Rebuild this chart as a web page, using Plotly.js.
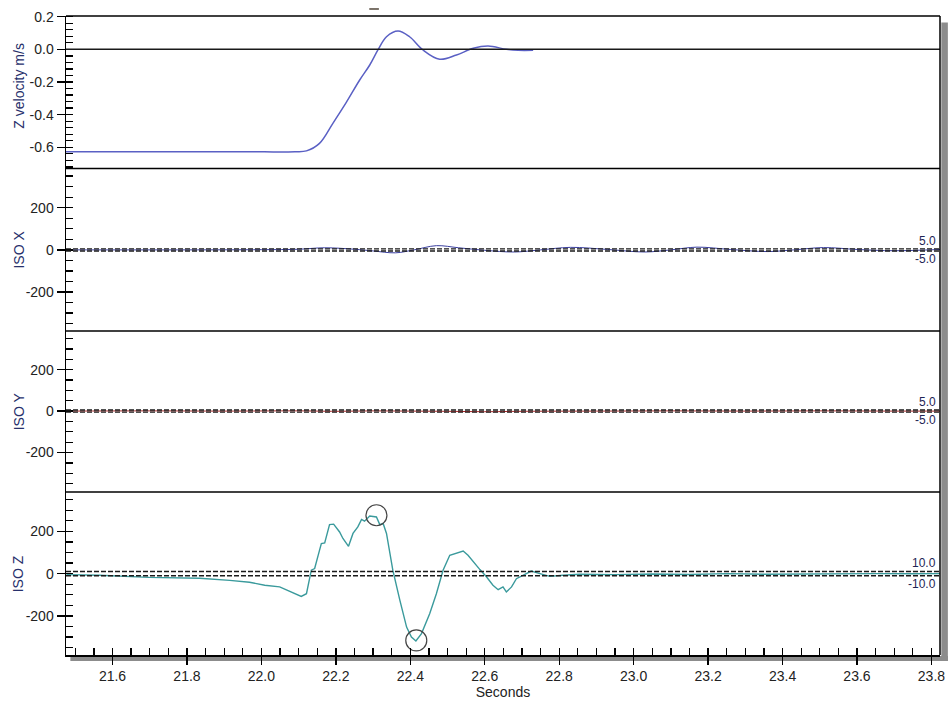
<!DOCTYPE html>
<html>
<head>
<meta charset="utf-8">
<script src="https://cdn.plot.ly/plotly-3.0.1.min.js"></script>
<style>html,body{margin:0;padding:0;background:#fff;}#chart{width:949px;height:701px;}</style>
</head>
<body>
<div id="chart"></div>
<script>
// ---- data ----
const zVelT = [21.475, 21.8, 22.0, 22.09, 22.121, 22.156, 22.192, 22.228, 22.264, 22.291, 22.313, 22.336, 22.367, 22.398, 22.434, 22.479, 22.524, 22.569, 22.609, 22.658, 22.69, 22.73];
const zVelV = [-0.627, -0.628, -0.628, -0.627, -0.622, -0.576, -0.453, -0.325, -0.188, -0.096, -0.004, 0.077, 0.112, 0.077, -0.004, -0.061, -0.035, 0.006, 0.020, 0.000, -0.006, -0.006];

const isoXT = [21.475, 21.8, 22.0, 22.1, 22.17, 22.25, 22.3, 22.36, 22.41, 22.47, 22.53, 22.6, 22.68, 22.75, 22.83, 22.93, 23.03, 23.1, 23.17, 23.26, 23.36, 23.43, 23.51, 23.6, 23.7, 23.823];
const isoXV = [0, 0, 1, 3, 10, 3, -5, -14, 0, 20, 10, -2, -10, 0, 12, 2, -10, 0, 13, 2, -8, 0, 11, 2, -4, 2];

const isoYT = [21.475, 21.7, 21.9, 22.1, 22.2, 22.3, 22.4, 22.5, 22.6, 22.7, 22.9, 23.1, 23.3, 23.5, 23.7, 23.823];
const isoYV = [0, 1, 0, 1, -1, 1, 0, -1, -3, -1, 0, 1, 0, 1, 0, 0];

const isoZT = [21.476, 21.565, 21.699, 21.834, 21.915, 21.968, 22.009, 22.049, 22.107, 22.121, 22.134, 22.143, 22.156, 22.161, 22.170, 22.183, 22.194, 22.210, 22.219, 22.234, 22.246, 22.259, 22.269, 22.277, 22.291, 22.309, 22.318, 22.327, 22.336, 22.353, 22.372, 22.390, 22.403, 22.415, 22.430, 22.452, 22.470, 22.488, 22.506, 22.524, 22.542, 22.555, 22.569, 22.587, 22.605, 22.622, 22.636, 22.649, 22.658, 22.672, 22.685, 22.703, 22.725, 22.748, 22.775, 22.810, 22.855, 22.95, 23.05, 23.15, 23.25, 23.35, 23.45, 23.55, 23.65, 23.75, 23.823];
const isoZV = [-5, -8, -18, -22, -32, -41, -55, -63, -108, -95, 16, 24, 110, 142, 145, 232, 234, 197, 166, 129, 190, 221, 256, 248, 272, 268, 232, 237, 190, 16, -127, -253, -300, -319, -284, -190, -95, 16, 87, 98, 107, 87, 55, 19, -16, -55, -76, -63, -87, -63, -24, -8, 12, 0, -13, -8, -3, -5, -2, -4, 0, -3, -1, -2, 0, -1, 0];

const peakT = [22.309, 22.416];
const peakV = [276, -316];

const isoXLimits = [5, -5];
const isoYLimits = [5, -5];
const isoZLimits = [10, -10];

const xTickVals = [21.6, 21.8, 22.0, 22.2, 22.4, 22.6, 22.8, 23.0, 23.2, 23.4, 23.6, 23.8];
const xTickText = ['21.6', '21.8', '22.0', '22.2', '22.4', '22.6', '22.8', '23.0', '23.2', '23.4', '23.6', '23.8'];
const zVelTickVals = [-0.6, -0.4, -0.2, 0.0, 0.2];
const zVelTickText = ['-0.6', '-0.4', '-0.2', '0.0', '0.2'];
const isoTickVals = [-200, 0, 200];
const isoTickText = ['-200', '0', '200'];
const panelTitles = ['Z velocity m/s', 'ISO X', 'ISO Y', 'ISO Z'];

// ---- layout helpers ----
const XR = [21.475, 23.823];
const FONT = 'Liberation Sans, Arial, sans-serif';
const TXT = '#222222';
const dom = [[0.7613, 1], [0.507, 0.7613], [0.2551, 0.507], [0, 0.2551]];

function yAxis(d, range, tv, tt, minorDt) {
  return {
    domain: d, anchor: 'x', range: range,
    tickmode: 'array', tickvals: tv, ticktext: tt,
    ticks: 'outside', ticklen: 8, tickwidth: 1.3, tickcolor: '#000',
    minor: {tickmode: 'linear', tick0: 0, dtick: minorDt, ticks: 'inside', ticklen: 7, tickwidth: 1.3, tickcolor: '#000', showgrid: false},
    showline: true, linecolor: '#000', linewidth: 1.5,
    showgrid: false, zeroline: false,
    tickfont: {family: FONT, size: 14, color: TXT}, fixedrange: true
  };
}

const traces = [
  {x: zVelT, y: zVelV, xaxis: 'x', yaxis: 'y', type: 'scatter', mode: 'lines',
   line: {color: '#5a60c4', width: 1.5, shape: 'spline'}, hoverinfo: 'skip'},
  {x: isoXT, y: isoXV, xaxis: 'x', yaxis: 'y2', type: 'scatter', mode: 'lines',
   line: {color: '#3a3f9e', width: 1, shape: 'spline'}, hoverinfo: 'skip'},
  {x: isoYT, y: isoYV, xaxis: 'x', yaxis: 'y3', type: 'scatter', mode: 'lines',
   line: {color: '#a82828', width: 1, shape: 'spline'}, hoverinfo: 'skip'},
  {x: isoZT, y: isoZV, xaxis: 'x', yaxis: 'y4', type: 'scatter', mode: 'lines',
   line: {color: '#3a9a9c', width: 1.4}, hoverinfo: 'skip'},
  {x: peakT, y: peakV, xaxis: 'x', yaxis: 'y4', type: 'scatter', mode: 'markers',
   marker: {symbol: 'circle-open', size: 21, color: '#444', line: {width: 1.2, color: '#444'}}, hoverinfo: 'skip'}
];

const shapes = [];
function hline(yref, y, dash) {
  shapes.push({type: 'line', xref: 'paper', x0: 0, x1: 1, yref: yref, y0: y, y1: y,
    line: {color: '#1a1a1a', width: dash ? 1.4 : 1.5, dash: dash ? '5px,2px' : 'solid'}, layer: 'above'});
}
hline('y', 0, false);
isoXLimits.forEach(v => hline('y2', v, true));
isoYLimits.forEach(v => hline('y3', v, true));
isoZLimits.forEach(v => hline('y4', v, true));
// panel separators / frame
[dom[0][0], dom[1][0], dom[2][0], 1].forEach(p => shapes.push({type: 'line', xref: 'paper', yref: 'paper', x0: 0, x1: 1, y0: p, y1: p, line: {color: '#000', width: 1.5}}));
shapes.push({type: 'line', xref: 'paper', yref: 'paper', x0: 1, x1: 1, y0: 0, y1: 1, line: {color: '#000', width: 1.5}});
// grey drop shadow
shapes.push({type: 'rect', xref: 'paper', yref: 'paper', x0: 0.005, x1: 1.009, y0: -0.0095, y1: -0.0015, line: {width: 0}, fillcolor: '#8c8c8c', layer: 'below'});
shapes.push({type: 'rect', xref: 'paper', yref: 'paper', x0: 1.0015, x1: 1.009, y0: -0.0095, y1: 0.99, line: {width: 0}, fillcolor: '#8c8c8c', layer: 'below'});
// small mark above top panel
shapes.push({type: 'line', xref: 'paper', yref: 'paper', x0: 0.347, x1: 0.358, y0: 1.011, y1: 1.011, line: {color: '#7a7268', width: 2}});

const annotations = [];
const titleY = [(dom[0][0] + dom[0][1]) / 2 + 0.01, (dom[1][0] + dom[1][1]) / 2, (dom[2][0] + dom[2][1]) / 2, (dom[3][0] + dom[3][1]) / 2];
panelTitles.forEach((t, i) => annotations.push({
  text: t, xref: 'paper', yref: 'paper', x: -0.054, y: titleY[i], textangle: -90,
  showarrow: false, xanchor: 'center', yanchor: 'middle',
  font: {family: FONT, size: 14, color: '#27306b'}
}));
function limLabels(yref, lims) {
  annotations.push({text: lims[0].toFixed(1), xref: 'paper', yref: yref, x: 0.998, y: lims[0], xanchor: 'right', yanchor: 'bottom', yshift: -1, showarrow: false, font: {family: FONT, size: 12, color: '#1e2555'}});
  annotations.push({text: lims[1].toFixed(1), xref: 'paper', yref: yref, x: 0.998, y: lims[1], xanchor: 'right', yanchor: 'top', yshift: 1, showarrow: false, font: {family: FONT, size: 12, color: '#1e2555'}});
}
limLabels('y2', isoXLimits);
limLabels('y3', isoYLimits);
limLabels('y4', isoZLimits);

const layout = {
  width: 949, height: 701,
  margin: {l: 66, r: 9, t: 16, b: 46, pad: 0},
  paper_bgcolor: '#fff', plot_bgcolor: '#fff',
  showlegend: false,
  font: {family: FONT, size: 14, color: TXT},
  xaxis: {
    domain: [0, 1], anchor: 'y4', range: XR,
    tickmode: 'array', tickvals: xTickVals, ticktext: xTickText,
    ticks: 'outside', ticklen: 8, tickwidth: 1.3, tickcolor: '#000',
    minor: {tickmode: 'linear', tick0: 21.5, dtick: 0.05, ticks: 'inside', ticklen: 7, tickwidth: 1.3, tickcolor: '#000', showgrid: false},
    showline: true, linecolor: '#000', linewidth: 1.5,
    showgrid: false, zeroline: false,
    tickfont: {family: FONT, size: 14, color: TXT},
    title: {text: 'Seconds', font: {family: FONT, size: 14, color: TXT}, standoff: 2},
    fixedrange: true
  },
  xaxis5: {
    overlaying: 'x', anchor: 'y4', range: XR,
    tickmode: 'array', tickvals: xTickVals, showticklabels: false,
    ticks: 'inside', ticklen: 8, tickwidth: 1.3, tickcolor: '#000',
    showline: false, showgrid: false, zeroline: false, fixedrange: true
  },
  yaxis: yAxis(dom[0], [-0.730, 0.204], zVelTickVals, zVelTickText, 0.04),
  yaxis2: yAxis(dom[1], [-385, 386], isoTickVals, isoTickText, 50),
  yaxis3: yAxis(dom[2], [-390, 386], isoTickVals, isoTickText, 50),
  yaxis4: yAxis(dom[3], [-385, 386], isoTickVals, isoTickText, 50),
  shapes: shapes,
  annotations: annotations
};

Plotly.newPlot('chart', traces, layout, {displayModeBar: false, staticPlot: true});
</script>
</body>
</html>
